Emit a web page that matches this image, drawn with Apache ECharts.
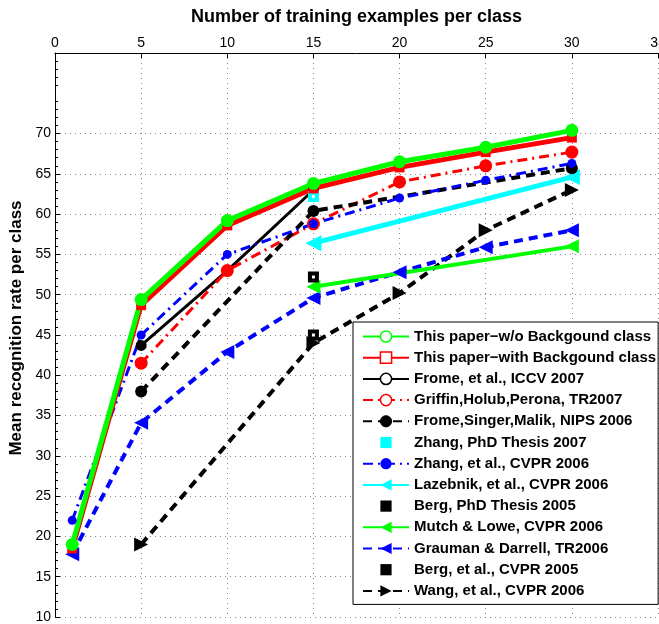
<!DOCTYPE html>
<html><head><meta charset="utf-8">
<script src="https://cdn.jsdelivr.net/npm/echarts@6/dist/echarts.min.js"></script>
<style>html,body{margin:0;padding:0;background:#fff}#c{width:659px;height:624px}</style>
</head><body><div id="c"></div>
<script>
// ---- data ----
const xs = [1, 5, 10, 15, 20, 25, 30];
const xTicks = [0, 5, 10, 15, 20, 25, 30, 35];
const yTicks = [10, 15, 20, 25, 30, 35, 40, 45, 50, 55, 60, 65, 70];
const xTitle = 'Number of training examples per class';
const yTitle = 'Mean recognition rate per class';

const names = [
  'This paper\u2212w/o Backgound class',
  'This paper\u2212with Backgound class',
  'Frome, et al., ICCV 2007',
  'Griffin,Holub,Perona, TR2007',
  'Frome,Singer,Malik, NIPS 2006',
  'Zhang, PhD Thesis 2007',
  'Zhang, et al., CVPR 2006',
  'Lazebnik, et al., CVPR 2006',
  'Berg, PhD Thesis 2005',
  'Mutch & Lowe, CVPR 2006',
  'Grauman & Darrell, TR2006',
  'Berg, et al., CVPR 2005',
  'Wang, et al., CVPR 2006'
];
//                1     5     10    15    20    25    30
const paperWo   = [19,   49.4, 59.2, 63.8, 66.5, 68.3, 70.4];
const paperWith = [18.5, 48.7, 58.6, 63.2, 65.8, 67.7, 69.5];
const fromeICCV = [null, 43.7, 53.0, 63.0, null, null, null];
const griffin   = [null, 41.5, 53.0, 58.8, 64.0, 66.0, 67.7];
const fromeNIPS = [null, 38.0, null, 60.4, null, null, 65.7];
const zhangPhD  = [null, null, null, 62.2, null, null, null];
const zhangCVPR = [22.0, 45.0, 55.0, 58.8, 62.0, 64.2, 66.3];
const lazebnik  = [null, null, null, 56.4, null, null, 64.6];
const bergPhD   = [null, null, null, 52.2, null, null, null];
const mutch     = [null, null, null, 51.0, null, null, 56.0];
const grauman   = [17.8, 34.1, 42.9, 49.6, 52.8, 55.9, 58.0];
const bergCVPR  = [null, null, null, 45.0, null, null, null];
const wang      = [null, 19.0, null, 44.0, 50.2, 58.0, 63.0];

// ---- helpers ----
function pts(arr) { return xs.map((x, i) => [x, arr[i]]).filter(p => p[1] != null); }
const FONT = "'Liberation Sans', Arial, Helvetica, sans-serif";
const DASH = [9, 6];
const DASHDOT = [10, 5, 2, 5];

function lineSeries(name, arr, color, width, type, symbol, size, rotate, fill, border, bw) {
  return {
    name: name, type: 'line', data: pts(arr),
    symbol: symbol, symbolSize: size, symbolRotate: rotate || 0, showSymbol: true,
    lineStyle: { color: color, width: width, type: type, opacity: width > 0 ? 1 : 0 },
    itemStyle: { color: fill || color, borderColor: border || color, borderWidth: border ? (bw || 3) : 0, opacity: 1 },
    emphasis: { disabled: true }, animation: false, z: 2
  };
}

const series = [
  lineSeries(names[12], wang, '#000', 4, DASH, 'triangle', 14, -90),
  lineSeries(names[11], bergCVPR, '#000', 0, 'solid', 'rect', 7, 0, '#fff', '#000', 4),
  lineSeries(names[10], grauman, '#0000ff', 4, DASH, 'triangle', 14, 90),
  lineSeries(names[9], mutch, '#00ff00', 4, 'solid', 'triangle', 14, 90),
  lineSeries(names[8], bergPhD, '#000', 0, 'solid', 'rect', 7, 0, '#fff', '#000', 4),
  lineSeries(names[7], lazebnik, '#00ffff', 5, 'solid', 'triangle', 16, 90),
  lineSeries(names[2], fromeICCV, '#000', 3, 'solid', 'circle', 11),
  lineSeries(names[3], griffin, '#ff0000', 3, DASHDOT, 'circle', 13),
  lineSeries(names[4], fromeNIPS, '#000', 4, DASH, 'circle', 12),
  lineSeries(names[6], zhangCVPR, '#0000ff', 3, DASHDOT, 'circle', 9),
  lineSeries(names[5], zhangPhD, '#00ffff', 0, 'solid', 'rect', 7, 0, '#fff', '#00ffff', 4),
  lineSeries(names[1], paperWith, '#ff0000', 5, 'solid', 'rect', 10),
  lineSeries(names[0], paperWo, '#00ff00', 5, 'solid', 'circle', 13)
];

const legendStyles = [
  { itemStyle: { color: '#fff', borderColor: '#00ff00', borderWidth: 1.5 } },
  { itemStyle: { color: '#fff', borderColor: '#ff0000', borderWidth: 1.5 } },
  { itemStyle: { color: '#fff', borderColor: '#000', borderWidth: 1.5 } },
  { itemStyle: { color: '#fff', borderColor: '#ff0000', borderWidth: 1.5 } },
  { itemStyle: { color: '#000', borderColor: '#000', borderWidth: 1 } },
  { lineStyle: { opacity: 0 }, itemStyle: { color: '#00ffff', borderWidth: 0 } },
  { itemStyle: { color: '#0000ff' } },
  { },
  { lineStyle: { opacity: 0 }, itemStyle: { color: '#000', borderWidth: 0 } },
  { },
  { },
  { lineStyle: { opacity: 0 }, itemStyle: { color: '#000', borderWidth: 0 } },
  { }
];
const legendData = names.map((n, i) => Object.assign({ name: n }, legendStyles[i]));

const chart = echarts.init(document.getElementById('c'), null, { renderer: 'canvas' });
chart.setOption({
  animation: false,
  backgroundColor: '#fff',
  grid: { left: 55, right: 1, top: 53, bottom: 7, containLabel: false, outerBoundsMode: 'none' },
  xAxis: {
    type: 'value', position: 'top', min: xTicks[0], max: xTicks[xTicks.length - 1], interval: 5,
    name: xTitle, nameLocation: 'middle', nameGap: 27,
    nameTextStyle: { fontFamily: FONT, fontSize: 18, fontWeight: 'bold', color: '#000' },
    axisLine: { show: true, lineStyle: { color: '#000', width: 1 } },
    axisTick: { show: true, inside: true, length: 5, lineStyle: { color: '#000' } },
    axisLabel: { show: true, fontFamily: FONT, fontSize: 14, color: '#000', margin: 3, showMaxLabel: true, showMinLabel: true, hideOverlap: false },
    splitLine: { show: true, lineStyle: { color: '#888', width: 1, type: [1, 4] } }
  },
  yAxis: {
    type: 'value', min: 10, max: 80, interval: 5,
    name: yTitle, nameLocation: 'middle', nameGap: 26,
    nameTextStyle: { fontFamily: FONT, fontSize: 17, fontWeight: 'bold', color: '#000', padding: [0, 0, 0, 14] },
    axisLine: { show: true, onZero: false, lineStyle: { color: '#000', width: 1 } },
    axisTick: { show: true, inside: true, length: 5, customValues: yTicks, lineStyle: { color: '#000' } },
    minorTick: { show: true, splitNumber: 5, length: 3, lineStyle: { color: '#000' } },
    axisLabel: { show: true, fontFamily: FONT, fontSize: 14, color: '#000', margin: 4, customValues: yTicks },
    splitLine: { show: true, lineStyle: { color: '#888', width: 1, type: [1, 4] } },
    minorSplitLine: { show: false }
  },
  legend: {
    orient: 'vertical', left: 353, top: 322,
    itemWidth: 46, itemHeight: 14, itemGap: 6.2,
    padding: [7, 2, 6, 9],
    borderColor: '#000', borderWidth: 1, borderRadius: 0, backgroundColor: '#fff',
    textStyle: { fontFamily: FONT, fontSize: 15, lineHeight: 14, fontWeight: 'bold', color: '#000' },
    selectedMode: false,
    data: legendData
  },
  series: series
});
</script>
</body></html>
